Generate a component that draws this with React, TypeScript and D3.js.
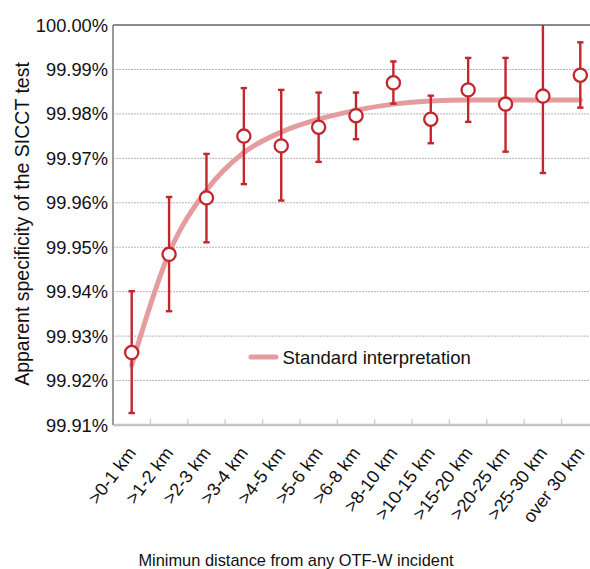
import React from 'react';
import * as d3 from 'd3';

const categories = ['>0-1 km', '>1-2 km', '>2-3 km', '>3-4 km', '>4-5 km', '>5-6 km', '>6-8 km', '>8-10 km', '>10-15 km', '>15-20 km', '>20-25 km', '>25-30 km', 'over 30 km'];
const observed = [99.9263, 99.9484, 99.9611, 99.9750, 99.9728, 99.9770, 99.9796, 99.9870, 99.9788, 99.9854, 99.9822, 99.9840, 99.9887];
const upper = [99.9401, 99.9613, 99.9710, 99.9858, 99.9854, 99.9848, 99.9848, 99.9918, 99.9841, 99.9926, 99.9926, 100.0010, 99.9961];
const lower = [99.9127, 99.9356, 99.9511, 99.9642, 99.9605, 99.9692, 99.9743, 99.9823, 99.9734, 99.9782, 99.9715, 99.9667, 99.9814];
const standard = [99.9235, 99.9487, 99.9628, 99.9713, 99.9759, 99.9788, 99.9808, 99.9822, 99.9829, 99.9831, 99.9831, 99.9831, 99.9831];
const yTicks = [99.91, 99.92, 99.93, 99.94, 99.95, 99.96, 99.97, 99.98, 99.99, 100.0];

const FONT = '"Liberation Sans", Arial, Helvetica, sans-serif';
const RED = '#c1272d';
const PINK = '#e59c9e';

export default function App() {
	const width = 590, height = 569;
	const left = 113, top = 25, right = 599, bottom = 425;

	const x = d3.scaleBand<string>().domain(categories).range([left, right]);
	const y = d3.scaleLinear().domain([99.91, 100]).range([bottom, top]);
	const cx = (i: number) => (x(categories[i]) as number) + x.bandwidth() / 2;

	// smoothed fit line
	const line = d3.line<number>()
		.x((d, i) => cx(i))
		.y(d => y(d))
		.curve(d3.curveMonotoneX);

	return (
		<div style={{position: 'absolute', left: 0, top: 0}}>
			<svg width={width} height={height} style={{display: 'block', fontFamily: FONT}}>
				<defs>
					<clipPath id="plot">
						<rect x={left} y={top} width={right - left} height={bottom - top}/>
					</clipPath>
				</defs>
				<rect width={width} height={height} fill="#fff"/>

				{/* grid */}
				{yTicks.slice(1, -1).map(t => (
					<line key={t} x1={left} x2={right} y1={y(t)} y2={y(t)}
						stroke="#b4b4b4" strokeWidth={1} strokeDasharray="2,1"/>
				))}

				{/* x ticks (inside, at category boundaries) */}
				{categories.slice(1).map(c => (
					<line key={c} x1={x(c)} x2={x(c)} y1={bottom} y2={bottom - 6}
						stroke="#c8c8c8" strokeWidth={1.2}/>
				))}

				{/* frame */}
				<line x1={left} x2={right} y1={bottom} y2={bottom} stroke="#c4c4c4" strokeWidth={2.5}/>
				<line x1={left} x2={left} y1={top} y2={bottom} stroke="#9a9a9a" strokeWidth={2}/>
				<line x1={left} x2={right} y1={top} y2={top} stroke="#8a8a8a" strokeWidth={2}/>

				<g clipPath="url(#plot)">
					<path d={line(standard) || ''} fill="none" stroke={PINK} strokeWidth={5} strokeLinecap="round"/>
					{observed.map((v, i) => (
						<g key={i} stroke={RED} strokeWidth={2.4}>
							<line x1={cx(i)} x2={cx(i)} y1={y(upper[i])} y2={y(lower[i])}/>
							<line x1={cx(i) - 3.2} x2={cx(i) + 3.2} y1={y(upper[i])} y2={y(upper[i])}/>
							<line x1={cx(i) - 3.2} x2={cx(i) + 3.2} y1={y(lower[i])} y2={y(lower[i])}/>
						</g>
					))}
				</g>
				{observed.map((v, i) => (
					<circle key={i} cx={cx(i)} cy={y(v)} r={6.6} fill="#fff" stroke={RED} strokeWidth={2.3}/>
				))}

				{/* y tick labels */}
				{yTicks.map(t => (
					<text key={t} x={108} y={y(t)} dy="0.36em" textAnchor="end" fontSize={18.3} fill="#111">
						{d3.format('.2f')(t) + '%'}
					</text>
				))}

				{/* x tick labels */}
				{categories.map((c, i) => (
					<text key={c} transform={`translate(${cx(i) + 5},${453}) rotate(-53)`}
						textAnchor="end" fontSize={18} fill="#111">{c}</text>
				))}

				{/* legend */}
				<line x1={251} x2={276} y1={357} y2={357} stroke={PINK} strokeWidth={5} strokeLinecap="round"/>
				<text x={282.5} y={364} fontSize={18.5} fill="#111">Standard interpretation</text>

				{/* axis titles */}
				<text x={296} y={566} textAnchor="middle" fontSize={16.4} fill="#111">
					Minimun distance from any OTF-W incident
				</text>
				<text transform={`translate(28.5,${(top + bottom) / 2 - 1}) rotate(-90)`} textAnchor="middle" fontSize={19.5} fill="#111">
					Apparent specificity of the SICCT test
				</text>
			</svg>
		</div>
	);
}
